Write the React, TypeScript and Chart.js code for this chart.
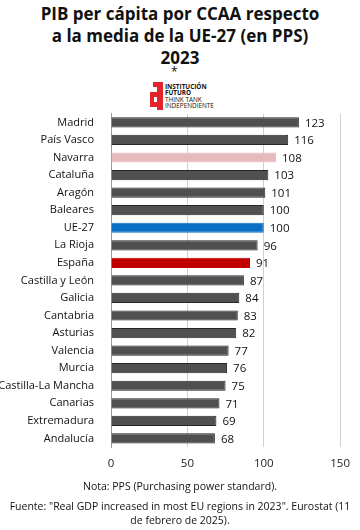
import React, { useEffect, useRef } from "react";
import { Chart, registerables } from "chart.js";

Chart.register(...registerables);

const categories = [
  "Madrid", "País Vasco", "Navarra", "Cataluña", "Aragón", "Baleares", "UE-27",
  "La Rioja", "España", "Castilla y León", "Galicia", "Cantabria", "Asturias",
  "Valencia", "Murcia", "Castilla-La Mancha", "Canarias", "Extremadura", "Andalucía",
];
const values = [123, 116, 108, 103, 101, 100, 100, 96, 91, 87, 84, 83, 82, 77, 76, 75, 71, 69, 68];
const xTicks = [0, 50, 100, 150];

const FONT = "'Open Sans', sans-serif";

const colorFor = (c: string) =>
  c === "Navarra" ? "#e6b9bd" : c === "UE-27" ? "#0b6fc4" : c === "España" ? "#c00000" : "#505050";
const borderFor = (c: string) =>
  c === "Navarra" ? "#e6b9bd" : c === "UE-27" ? "#0b6fc4" : c === "España" ? "#c00000" : "#262626";

const valueLabels = {
  id: "valueLabels",
  afterDatasetsDraw(chart: any) {
    const ctx = chart.ctx;
    const meta = chart.getDatasetMeta(0);
    ctx.save();
    ctx.font = `11.5px ${FONT}`;
    ctx.fillStyle = "#111";
    ctx.textAlign = "left";
    ctx.textBaseline = "middle";
    meta.data.forEach((el: any, i: number) => {
      ctx.fillText(String(values[i]), el.x + 6, el.y + 1);
    });
    ctx.restore();
  },
};

const RED = "#e3242b";

function Logo() {
  const box = (l: number, t: number, w: number, h: number) => (
    <div style={{ position: "absolute", left: l, top: t, width: w, height: h, background: RED }} />
  );
  return (
    <div style={{ position: "absolute", left: 0, top: 0 }}>
      {box(157, 82, 6, 28)}
      {box(153, 82, 10, 5)}
      {box(150, 92, 11, 5)}
      {box(150, 102, 11, 5)}
      {box(150, 92, 4, 15)}
      <div
        style={{
          position: "absolute", left: 165, top: 84, fontFamily: FONT, fontSize: 6.4,
          lineHeight: "6.4px", color: "#111", whiteSpace: "nowrap",
        }}
      >
        <div style={{ fontWeight: 700 }}>INSTITUCIÓN</div>
        <div style={{ fontWeight: 700 }}>FUTURO</div>
        <div>THINK TANK</div>
        <div>INDEPENDIENTE</div>
      </div>
    </div>
  );
}

export default function App() {
  const ref = useRef<HTMLCanvasElement>(null);
  useEffect(() => {
    const chart = new Chart(ref.current!, {
      type: "bar",
      data: {
        labels: categories,
        datasets: [
          {
            data: values,
            backgroundColor: categories.map(colorFor),
            borderColor: categories.map(borderFor),
            borderWidth: 1,
            categoryPercentage: 1,
            barPercentage: 0.58,
          },
        ],
      },
      options: {
        indexAxis: "y",
        animation: false,
        responsive: false,
        maintainAspectRatio: false,
        layout: { padding: { top: 8, right: 14, left: 0, bottom: 0 } },
        plugins: { legend: { display: false }, title: { display: false }, tooltip: { enabled: false } },
        scales: {
          x: {
            min: 0,
            max: 150,
            afterBuildTicks: (s: any) => { s.ticks = xTicks.map((v) => ({ value: v })); },
            grid: { color: "#d0d0d0", lineWidth: 1, drawTicks: false },
            border: { display: false },
            ticks: { font: { family: FONT, size: 11.5 }, color: "#222", padding: 10 },
          },
          y: {
            grid: { display: false },
            border: { display: true, color: "#9a9a9a" },
            afterFit: (s: any) => { s.width = 111; },
            ticks: { font: { family: FONT, size: 11 }, color: "#111", padding: 9, autoSkip: false },
          },
        },
      },
      plugins: [valueLabels],
    });
    return () => chart.destroy();
  }, []);

  return (
    <div style={{ position: "fixed", left: 0, top: 0, width: 360, height: 530, background: "#fff", fontFamily: FONT }}>
      <div
        style={{
          position: "absolute", left: 0, top: 3, width: 360, textAlign: "center",
          fontWeight: 700, fontSize: 17, lineHeight: "22px", color: "#111",
        }}
      >
        <div>PIB per cápita por CCAA respecto</div>
        <div>a la media de la UE-27 (en PPS)</div>
        <div>2023</div>
      </div>
      <div style={{ position: "absolute", left: 171, top: 63, fontSize: 12, color: "#111" }}>*</div>
      <Logo />
      <canvas ref={ref} width={360} height={383} style={{ position: "absolute", left: 0, top: 98 }} />
      <div style={{ position: "absolute", left: 0, top: 479, width: 360, textAlign: "center", fontSize: 10.5, color: "#111" }}>
        Nota: PPS (Purchasing power standard).
      </div>
      <div
        style={{
          position: "absolute", left: 0, top: 499, width: 360, textAlign: "center",
          fontSize: 10.5, lineHeight: "14px", color: "#111", whiteSpace: "nowrap",
        }}
      >
        Fuente: "Real GDP increased in most EU regions in 2023". Eurostat (11
        <br />
        de febrero de 2025).
      </div>
    </div>
  );
}
